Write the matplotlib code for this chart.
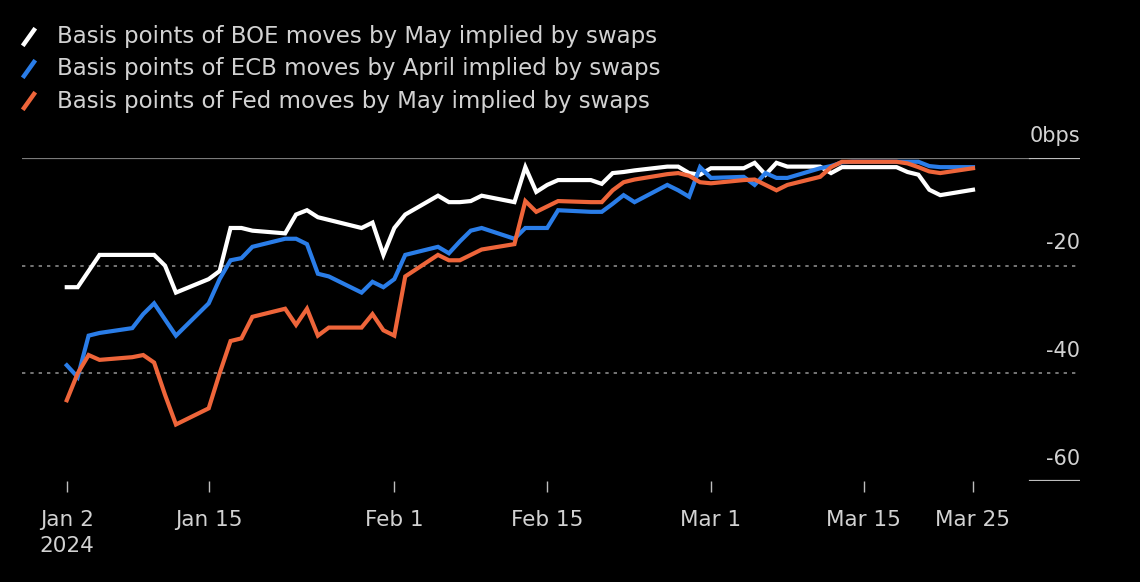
import datetime as dt
import matplotlib
matplotlib.use("Agg")
import matplotlib.pyplot as plt
import matplotlib.dates as mdates
import pandas as pd

# business days, Jan 2 - Mar 25 2024
dates = pd.bdate_range("2024-01-02", "2024-03-25")

boe = [-24, -24, -21, -18, -18, -18, -18, -20, -25, -22.5,
       -21, -13, -13, -13.5, -14, -10.5, -9.7, -11, -11.5, -13,
       -12, -18, -13, -10.5, -7, -8.2, -8.2, -8, -7, -8.2,
       -1.7, -6.3, -5, -4.1, -4.1, -4.8, -2.8, -2.6, -2.3, -1.6,
       -1.6, -2.8, -3.1, -1.9, -1.9, -0.9, -3.1, -0.9, -1.6, -1.6,
       -2.8, -1.7, -1.7, -1.7, -1.7, -2.6, -3.1, -5.9, -6.9, -5.9]

ecb = [-38.5, -40.7, -33, -32.5, -31.6, -29, -27, -30, -33, -27,
       -22.5, -19, -18.6, -16.5, -15, -15, -16, -21.5, -22, -25,
       -23, -24, -22.5, -18, -16.5, -17.7, -15.5, -13.5, -13, -15,
       -13, -13, -13, -9.7, -10, -10, -8.5, -6.9, -8.2, -5,
       -6, -7.2, -1.7, -3.7, -3.5, -5, -2.8, -3.7, -3.7, -1.9,
       -1.5, -0.8, -0.7, -0.7, -0.7, -0.7, -0.7, -1.5, -1.7, -1.7]

fed = [-45, -40, -36.6, -37.5, -37, -36.6, -38, -44, -49.5, -46.5,
       -40, -34, -33.5, -29.5, -28, -31, -28, -33, -31.5, -31.5,
       -29, -32, -33, -22, -18, -19, -19, -18, -17, -16,
       -8, -10, -9, -8, -8.2, -8.2, -6, -4.5, -4, -3,
       -2.8, -3.3, -4.5, -4.7, -4.1, -4, -5, -6, -5, -3.5,
       -1.7, -0.7, -0.7, -0.7, -0.7, -1, -1.7, -2.5, -2.8, -1.9]

labels = ["Basis points of BOE moves by May implied by swaps",
          "Basis points of ECB moves by April implied by swaps",
          "Basis points of Fed moves by May implied by swaps"]
colors = ["#ffffff", "#2a7de8", "#ee653a"]

xtick_dates = ["2024-01-02", "2024-01-15", "2024-02-01", "2024-02-15",
               "2024-03-01", "2024-03-15", "2024-03-25"]
xtick_labels = ["Jan 2\n2024", "Jan 15", "Feb 1", "Feb 15", "Mar 1", "Mar 15", "Mar 25"]
ytick_vals = [0, -20, -40, -60]
ytick_labels = ["0bps", "-20", "-40", "-60"]

txt = "#d2d2d2"
fig = plt.figure(figsize=(11.4, 5.82), dpi=100, facecolor="black")
ax = fig.add_axes([22/1140, 101/582, 1058/1140, 323/582], facecolor="black")

x = mdates.date2num(dates)
for vals, c, z in zip([boe, ecb, fed], colors, [3, 4, 5]):
    ax.plot(x, vals, color=c, lw=3.0, zorder=z, solid_joinstyle="miter")

x0 = mdates.date2num(dt.datetime(2024, 1, 2))
ax.set_xlim(x0 - 4.1, x0 + 92.8)
ax.set_ylim(-60, 0)

# gridlines and right side labels
split = 0.953
for v, lab in zip(ytick_vals, ytick_labels):
    if v == 0:
        ax.axhline(v, xmin=0, xmax=split, color="#7a7a7a", lw=1.6, zorder=1)
        ax.axhline(v, xmin=split, xmax=1, color="#bdbdbd", lw=1.6, zorder=1)
    elif v == -60:
        ax.axhline(v, xmin=split, xmax=1, color="#bdbdbd", lw=1.6, zorder=1)
    else:
        ax.axhline(v, color="#8a8a8a", lw=1.2, ls=(0, (2, 3)), zorder=1)
    ax.text(1.0, v + 2.3, lab, transform=ax.get_yaxis_transform(), ha="right",
            va="bottom", color=txt, fontsize=15)

for s in ax.spines.values():
    s.set_visible(False)
ax.set_yticks([])
ax.set_xticks(mdates.date2num(pd.to_datetime(xtick_dates)))
ax.set_xticklabels(xtick_labels, color=txt, fontsize=15.5, linespacing=1.35)
ax.tick_params(axis="x", length=8, width=1, color="#bdbdbd", pad=13)
for t in ax.get_xticklabels():
    t.set_verticalalignment("top")
    t.set_multialignment("center")

# legend with slanted swatches
for i, (lab, c) in enumerate(zip(labels, colors)):
    yc = 1 - (37 + 32 * i) / 582
    fig.add_artist(plt.Line2D([24/1140, 34/1140], [yc - 7/582, yc + 7/582],
                              color=c, lw=3.2, transform=fig.transFigure))
    fig.text(57/1140, yc, lab, color=txt, fontsize=16.5, va="center", ha="left")

fig.savefig("out.png", dpi=100, facecolor="black")
